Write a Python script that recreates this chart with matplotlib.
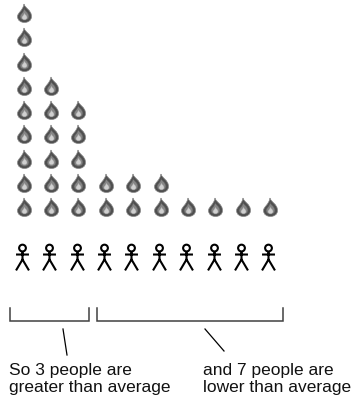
import matplotlib
matplotlib.use('Agg')
import matplotlib.pyplot as plt
import numpy as np
from matplotlib.path import Path

# flames per person, people sorted high to low
fires = [9, 6, 5, 2, 2, 2, 1, 1, 1, 1]
group_text = ['So 3 people are\ngreater than average', 'and 7 people are\nlower than average']

W, H = 352, 397


def px(x, y):
    # picture pixels to data units (person index, flame level)
    return (x - 23.5) / 27.4, 1 + (207 - y) / 24.25


def flame():
    c = Path.CURVE4
    verts = [(-0.5, 9.5), (0.2, 5.5), (7, 3.5), (7, -3), (7, -7), (3.5, -9), (0, -9),
             (-3.5, -9), (-7, -7), (-7, -3), (-7, 0.5), (-1.5, 3), (-0.5, 9.5)]
    codes = [Path.MOVETO] + [c] * 12
    return Path(np.array(verts, dtype=float), codes)


def person():
    head = Path.circle((0, 10.5), 3.4)
    body = Path([(0, 7), (0, -1), (-6.5, 4), (6.5, 4), (-6.5, -12), (0, -1), (6.5, -12)],
                [Path.MOVETO, Path.LINETO, Path.MOVETO, Path.LINETO, Path.MOVETO, Path.LINETO, Path.LINETO])
    return Path.make_compound_path(head, body)


fig = plt.figure(figsize=(W / 100, H / 100), dpi=100)
ax = fig.add_axes((0, 0, 1, 1))
ax.set_xlim(px(0, 0)[0], px(W, 0)[0])
ax.set_ylim(px(0, H)[1], px(0, 0)[1])
ax.axis('off')

xs = np.concatenate([np.full(n, i) for i, n in enumerate(fires)])
ys = np.concatenate([np.arange(1, n + 1) for n in fires])

# flame marker: dark shell, mid grey, pale core
ax.plot(xs, ys, ls='', marker=flame(), ms=13.7, mfc='#4f4f4f', mec='#8a8a8a', mew=0.5)
ax.plot(xs, ys - 0.05, ls='', marker=flame(), ms=8.6, mfc='#868686', mec='#5e5e5e', mew=0.4)
ax.plot(xs, ys - 0.12, ls='', marker=flame(), ms=4.8, mfc='#d0d0d0', mec='#b0b0b0', mew=0.2)

# people sit slightly left of the flame columns
people_x = np.arange(len(fires)) - 0.06
people_y = px(0, 258)[1]
ax.plot(people_x, [people_y] * len(fires), ls='', marker=person(), ms=19.9,
        mfc='none', mec='black', mew=1.5)

# brackets
bracket_px = [(10, 89), (96.5, 283)]
for x0, x1 in bracket_px:
    bx, by = zip(*[px(x0, 308), px(x0, 321), px(x1, 321), px(x1, 308)])
    ax.plot(bx, by, color='#404040', lw=1.1, solid_joinstyle='miter')

# pointer lines
for p0, p1 in [((63, 329), (67, 355)), ((205, 329), (224, 351))]:
    lx, ly = zip(px(*p0), px(*p1))
    ax.plot(lx, ly, color='black', lw=0.9)

for txt, pos in zip(group_text, [(9, 392), (203, 392)]):
    tx, ty = px(*pos)
    ax.text(tx, ty, txt, family='Liberation Sans', fontsize=12.5, color='#111111',
            linespacing=1.16, va='baseline', ha='left')

fig.savefig('out.png', dpi=100)
